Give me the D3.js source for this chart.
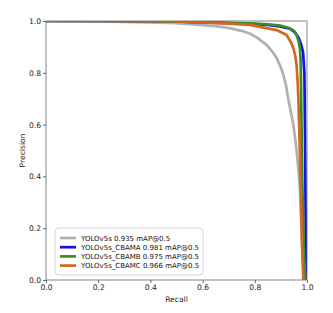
<!DOCTYPE html>
<html>
<head>
<meta charset="utf-8">
<script src="https://cdn.jsdelivr.net/npm/d3@7"></script>
<style>
  body { margin: 0; background: #fff; }
  svg { font-family: "DejaVu Sans", sans-serif; }
</style>
</head>
<body>
<div id="chart"></div>
<script>
// Series (recall -> precision)
const seriesNames = [
    "YOLOv5s 0.935 mAP@0.5",
    "YOLOv5s_CBAMA 0.981 mAP@0.5",
    "YOLOv5s_CBAMB 0.975 mAP@0.5",
    "YOLOv5s_CBAMC 0.966 mAP@0.5"
];
const seriesColors = ["#b0b0b0", "#1010f0", "#3b8a2c", "#d2691e"];

const recallBase = [0, 0.1, 0.2, 0.3, 0.4, 0.5, 0.59, 0.65, 0.705, 0.75, 0.78, 0.81, 0.846, 0.87, 0.884, 0.9, 0.91, 0.92, 0.928, 0.938, 0.948, 0.958, 0.966, 0.973, 0.98, 0.986, 0.992];
const precisionBase = [1.0, 0.999, 0.998, 0.997, 0.995, 0.992, 0.985, 0.98, 0.972, 0.962, 0.952, 0.935, 0.907, 0.878, 0.856, 0.82, 0.79, 0.75, 0.70, 0.65, 0.598, 0.52, 0.44, 0.347, 0.15, 0.05, 0.0];

const recallA = [0, 0.2, 0.4, 0.5, 0.6, 0.7, 0.8, 0.85, 0.9, 0.935, 0.955, 0.968, 0.977, 0.985, 0.99, 0.992, 0.994, 0.995, 0.996, 1.0];
const precisionA = [1.0, 1.0, 0.999, 0.998, 0.995, 0.992, 0.988, 0.985, 0.978, 0.97, 0.955, 0.935, 0.91, 0.88, 0.8, 0.6, 0.35, 0.2, 0.127, 0.0];

const recallB = [0, 0.2, 0.4, 0.6, 0.7, 0.8, 0.85, 0.897, 0.935, 0.95, 0.96, 0.967, 0.973, 0.976, 0.977, 0.98, 0.982, 0.985, 0.988, 0.991, 0.994];
const precisionB = [1.0, 1.0, 0.999, 0.996, 0.993, 0.99, 0.987, 0.982, 0.972, 0.962, 0.946, 0.925, 0.894, 0.84, 0.766, 0.52, 0.38, 0.25, 0.12, 0.04, 0.0];

const recallC = [0, 0.2, 0.4, 0.5, 0.6, 0.7, 0.78, 0.884, 0.922, 0.94, 0.948, 0.955, 0.96, 0.964, 0.967, 0.972, 0.975, 0.98, 0.983, 0.986];
const precisionC = [1.0, 1.0, 0.999, 0.998, 0.995, 0.99, 0.985, 0.965, 0.946, 0.915, 0.894, 0.865, 0.83, 0.77, 0.70, 0.52, 0.39, 0.2, 0.08, 0.0];

const tickValues = [0, 0.2, 0.4, 0.6, 0.8, 1.0];

const data = [
    { name: seriesNames[0], color: seriesColors[0], r: recallBase, p: precisionBase },
    { name: seriesNames[1], color: seriesColors[1], r: recallA, p: precisionA },
    { name: seriesNames[2], color: seriesColors[2], r: recallB, p: precisionB },
    { name: seriesNames[3], color: seriesColors[3], r: recallC, p: precisionC }
].map(s => ({ ...s, points: s.r.map((r, i) => ({ r, p: s.p[i] })) }));

// Dimensions
const W = 333, H = 313;
const margin = { top: 21, right: 26, bottom: 33, left: 46 };
const width = W - margin.left - margin.right;
const height = H - margin.top - margin.bottom;

const x = d3.scaleLinear().domain([0, 1]).range([0, width]);
const y = d3.scaleLinear().domain([0, 1]).range([height, 0]);

const svg = d3.select("#chart").append("svg")
    .attr("width", W)
    .attr("height", H);

const g = svg.append("g")
    .attr("transform", `translate(${margin.left},${margin.top})`);

g.append("clipPath").attr("id", "clip")
    .append("rect").attr("width", width).attr("height", height);

// Curves
const line = d3.line().x(d => x(d.r)).y(d => y(d.p)).curve(d3.curveMonotoneY);
g.append("g").attr("clip-path", "url(#clip)")
    .selectAll("path")
    .data(data)
    .enter()
    .append("path")
    .attr("d", d => d3.line().x(v => x(v.r)).y(v => y(v.p))(d.points))
    .attr("fill", "none")
    .attr("stroke", d => d.color)
    .attr("stroke-width", 2.7)
    .attr("stroke-linejoin", "round");

// Frame
g.append("rect")
    .attr("width", width)
    .attr("height", height)
    .attr("fill", "none")
    .attr("stroke", "#666")
    .attr("stroke-width", 0.8);

// Axes
const xAxis = g.append("g")
    .attr("transform", `translate(0,${height})`)
    .call(d3.axisBottom(x).tickValues(tickValues).tickFormat(d3.format(".1f")).tickSize(3).tickPadding(2));
const yAxis = g.append("g")
    .call(d3.axisLeft(y).tickValues(tickValues).tickFormat(d3.format(".1f")).tickSize(3).tickPadding(2));

[xAxis, yAxis].forEach(a => {
    a.select(".domain").remove();
    a.selectAll("line").attr("stroke", "#444").attr("stroke-width", 0.8);
    a.selectAll("text")
        .attr("fill", "#222")
        .style("font-size", "7.6px")
        .style("font-family", "DejaVu Sans");
});

// Axis labels
svg.append("text")
    .attr("x", margin.left + width / 2)
    .attr("y", 302)
    .attr("text-anchor", "middle")
    .attr("fill", "#222")
    .style("font-size", "7.6px")
    .text("Recall");

svg.append("text")
    .attr("transform", `translate(25,${margin.top + height / 2}) rotate(-90)`)
    .attr("text-anchor", "middle")
    .attr("fill", "#222")
    .style("font-size", "7.6px")
    .text("Precision");

// Legend
const legendX = 55, legendY = 228;
svg.append("rect")
    .attr("x", legendX)
    .attr("y", legendY)
    .attr("width", 148)
    .attr("height", 47)
    .attr("rx", 4)
    .attr("fill", "#fff")
    .attr("fill-opacity", 0.85)
    .attr("stroke", "#ccc")
    .attr("stroke-width", 0.8);

const legend = svg.selectAll(".legend")
    .data(data)
    .enter()
    .append("g")
    .attr("class", "legend")
    .attr("transform", (d, i) => `translate(${legendX + 5},${legendY + 10 + i * 9.2})`);

legend.append("line")
    .attr("x1", 0)
    .attr("x2", 16)
    .attr("stroke", d => d.color)
    .attr("stroke-width", 2.7);

legend.append("text")
    .attr("x", 21)
    .attr("y", 2.5)
    .attr("fill", "#111")
    .style("font-size", "7px")
    .text(d => d.name);
</script>
</body>
</html>
